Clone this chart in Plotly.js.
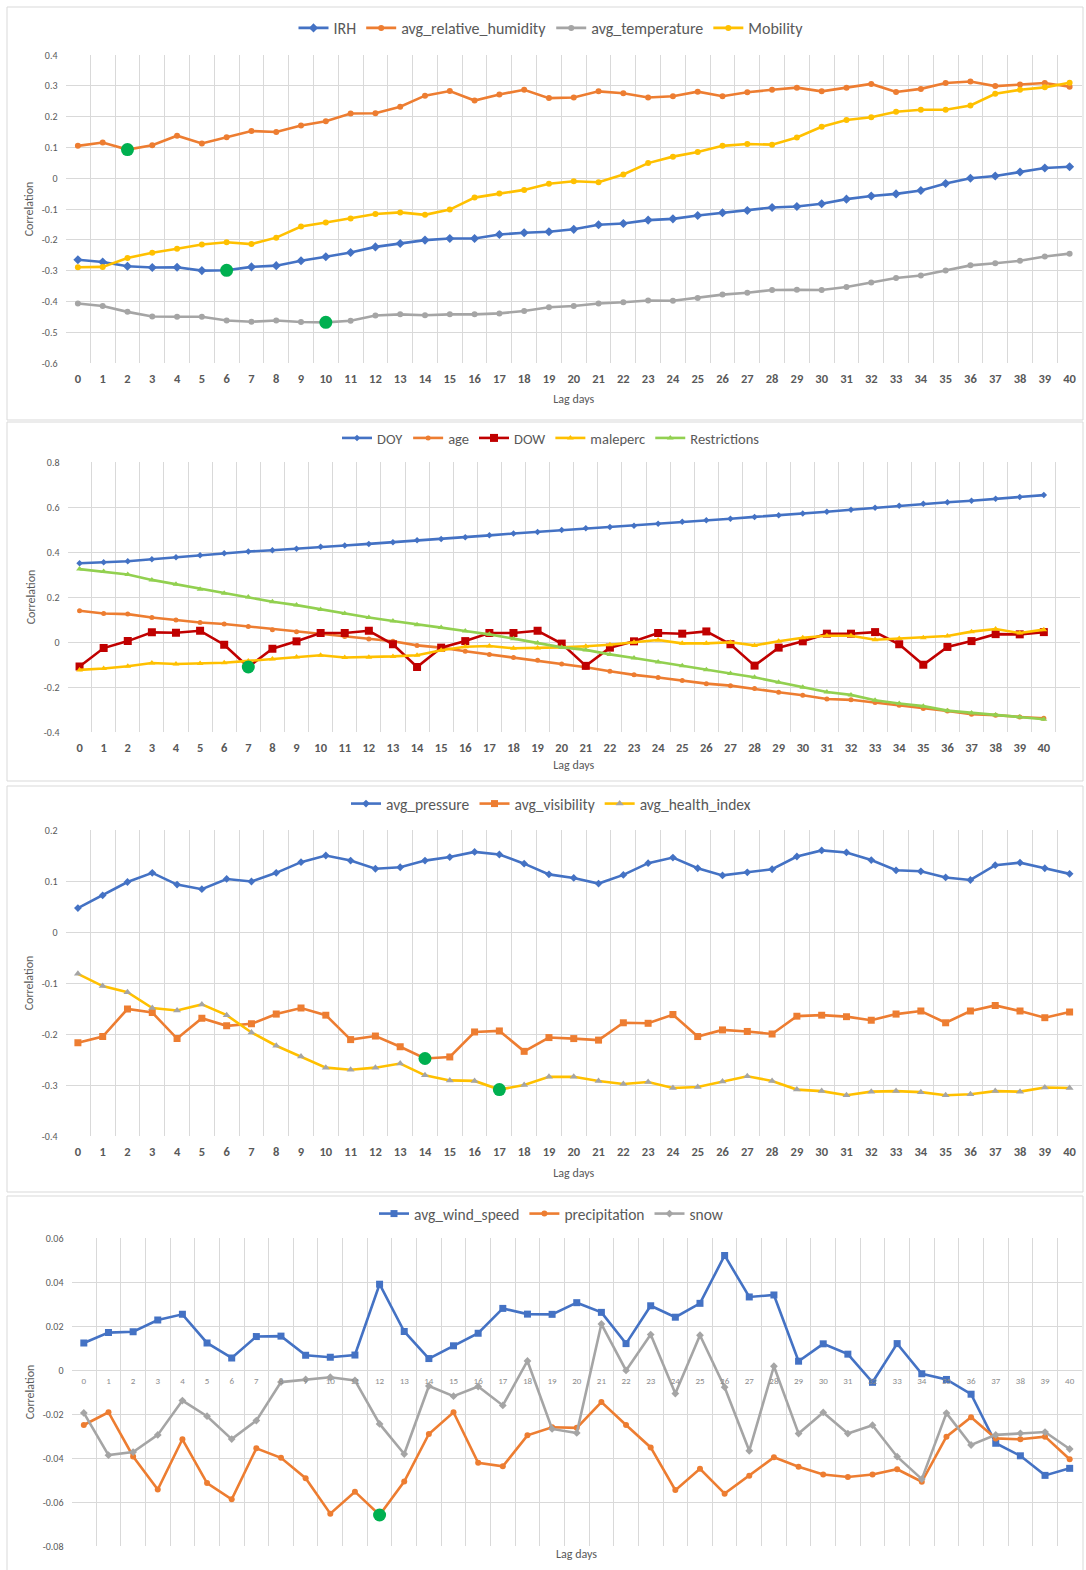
<!DOCTYPE html>
<html>
<head>
<meta charset="utf-8">
<script src="https://cdn.plot.ly/plotly-3.0.1.min.js"></script>
<style>html,body{margin:0;padding:0;background:#fff;}#chart{width:1086px;height:1570px;}</style>
</head>
<body>
<div id="chart"></div>
<script>
// ---------- DATA ----------
const lags = [0,1,2,3,4,5,6,7,8,9,10,11,12,13,14,15,16,17,18,19,20,21,22,23,24,25,26,27,28,29,30,31,32,33,34,35,36,37,38,39,40];
const lagLabels = ["0","1","2","3","4","5","6","7","8","9","10","11","12","13","14","15","16","17","18","19","20","21","22","23","24","25","26","27","28","29","30","31","32","33","34","35","36","37","38","39","40"];

// Panel 1
const irh = [-0.265,-0.272,-0.286,-0.290,-0.289,-0.300,-0.299,-0.288,-0.284,-0.268,-0.255,-0.241,-0.223,-0.212,-0.201,-0.196,-0.196,-0.183,-0.177,-0.174,-0.166,-0.151,-0.147,-0.136,-0.132,-0.121,-0.112,-0.105,-0.095,-0.092,-0.083,-0.068,-0.058,-0.051,-0.040,-0.017,0.000,0.007,0.020,0.033,0.037];
const avgRelativeHumidity = [0.105,0.116,0.093,0.107,0.138,0.113,0.133,0.153,0.150,0.171,0.185,0.210,0.211,0.232,0.268,0.283,0.252,0.272,0.287,0.260,0.262,0.282,0.276,0.262,0.266,0.281,0.266,0.279,0.287,0.294,0.282,0.294,0.306,0.280,0.290,0.309,0.314,0.299,0.304,0.309,0.297];
const avgTemperature = [-0.407,-0.415,-0.434,-0.449,-0.450,-0.450,-0.462,-0.466,-0.462,-0.467,-0.468,-0.463,-0.446,-0.442,-0.445,-0.442,-0.442,-0.439,-0.431,-0.419,-0.415,-0.407,-0.403,-0.397,-0.398,-0.389,-0.378,-0.372,-0.363,-0.362,-0.363,-0.353,-0.339,-0.324,-0.316,-0.300,-0.283,-0.276,-0.268,-0.254,-0.245];
const mobility = [-0.289,-0.288,-0.259,-0.242,-0.229,-0.215,-0.208,-0.214,-0.193,-0.157,-0.144,-0.131,-0.116,-0.111,-0.119,-0.102,-0.063,-0.050,-0.038,-0.018,-0.010,-0.013,0.012,0.049,0.070,0.085,0.105,0.111,0.109,0.132,0.167,0.189,0.198,0.216,0.222,0.222,0.236,0.274,0.287,0.295,0.310];

// Panel 2
const doy = [0.350,0.355,0.359,0.368,0.377,0.386,0.395,0.402,0.408,0.414,0.423,0.429,0.436,0.443,0.452,0.458,0.466,0.474,0.482,0.489,0.498,0.506,0.511,0.517,0.526,0.534,0.541,0.548,0.556,0.563,0.571,0.579,0.588,0.597,0.606,0.615,0.621,0.628,0.637,0.644,0.653];
const age = [0.139,0.127,0.124,0.109,0.098,0.087,0.080,0.069,0.055,0.046,0.034,0.024,0.013,0.003,-0.015,-0.025,-0.041,-0.055,-0.069,-0.081,-0.098,-0.112,-0.130,-0.146,-0.158,-0.171,-0.185,-0.194,-0.207,-0.223,-0.237,-0.253,-0.257,-0.269,-0.281,-0.296,-0.307,-0.321,-0.325,-0.333,-0.339];
const dow = [-0.109,-0.027,0.004,0.043,0.041,0.050,-0.012,-0.111,-0.030,0.003,0.040,0.040,0.050,-0.010,-0.111,-0.025,0.004,0.040,0.040,0.050,-0.007,-0.106,-0.025,0.003,0.040,0.037,0.047,-0.010,-0.105,-0.025,0.003,0.037,0.037,0.044,-0.010,-0.101,-0.022,0.004,0.035,0.034,0.044];
const maleperc = [-0.124,-0.118,-0.108,-0.093,-0.098,-0.095,-0.092,-0.084,-0.075,-0.067,-0.059,-0.069,-0.068,-0.064,-0.059,-0.037,-0.021,-0.018,-0.028,-0.027,-0.024,-0.019,-0.012,-0.001,0.009,-0.006,-0.006,-0.001,-0.015,0.003,0.019,0.028,0.028,0.010,0.016,0.019,0.027,0.046,0.058,0.040,0.055];
const restrictions = [0.324,0.313,0.300,0.276,0.257,0.235,0.217,0.200,0.179,0.164,0.145,0.127,0.109,0.093,0.077,0.064,0.049,0.034,0.015,-0.004,-0.024,-0.035,-0.055,-0.071,-0.089,-0.105,-0.123,-0.140,-0.157,-0.179,-0.201,-0.222,-0.235,-0.259,-0.273,-0.285,-0.305,-0.315,-0.324,-0.333,-0.343];

// Panel 3
const avgPressure = [0.047,0.072,0.098,0.116,0.093,0.084,0.104,0.099,0.116,0.137,0.150,0.140,0.124,0.127,0.140,0.147,0.157,0.152,0.134,0.113,0.106,0.095,0.112,0.135,0.146,0.125,0.111,0.117,0.123,0.148,0.160,0.156,0.141,0.121,0.119,0.107,0.102,0.131,0.136,0.125,0.114];
const avgVisibility = [-0.217,-0.205,-0.151,-0.158,-0.209,-0.169,-0.184,-0.180,-0.161,-0.149,-0.163,-0.211,-0.204,-0.225,-0.248,-0.245,-0.196,-0.194,-0.234,-0.207,-0.209,-0.212,-0.178,-0.179,-0.162,-0.205,-0.192,-0.195,-0.200,-0.165,-0.163,-0.166,-0.173,-0.161,-0.155,-0.178,-0.155,-0.144,-0.155,-0.168,-0.157];
const avgHealthIndex = [-0.082,-0.106,-0.118,-0.149,-0.154,-0.142,-0.163,-0.197,-0.223,-0.244,-0.266,-0.270,-0.266,-0.258,-0.281,-0.291,-0.292,-0.309,-0.300,-0.284,-0.284,-0.292,-0.298,-0.294,-0.306,-0.304,-0.293,-0.283,-0.292,-0.309,-0.312,-0.320,-0.313,-0.312,-0.314,-0.320,-0.318,-0.312,-0.313,-0.305,-0.306];

// Panel 4
const avgWindSpeed = [0.0123,0.0170,0.0174,0.0227,0.0253,0.0123,0.0055,0.0152,0.0154,0.0067,0.0058,0.0068,0.0390,0.0175,0.0052,0.0110,0.0167,0.0280,0.0254,0.0253,0.0306,0.0262,0.0120,0.0292,0.0240,0.0303,0.0521,0.0332,0.0341,0.0040,0.0119,0.0072,-0.0056,0.0120,-0.0017,-0.0043,-0.0110,-0.0333,-0.0390,-0.0479,-0.0447];
const precipitation = [-0.0250,-0.0192,-0.0393,-0.0543,-0.0315,-0.0514,-0.0588,-0.0356,-0.0399,-0.0492,-0.0653,-0.0553,-0.0659,-0.0507,-0.0291,-0.0192,-0.0422,-0.0438,-0.0297,-0.0260,-0.0263,-0.0146,-0.0250,-0.0352,-0.0546,-0.0449,-0.0562,-0.0481,-0.0397,-0.0440,-0.0475,-0.0486,-0.0475,-0.0451,-0.0508,-0.0303,-0.0215,-0.0311,-0.0315,-0.0303,-0.0406];
const snow = [-0.0195,-0.0387,-0.0373,-0.0295,-0.0139,-0.0210,-0.0314,-0.0230,-0.0055,-0.0043,-0.0033,-0.0047,-0.0245,-0.0382,-0.0073,-0.0119,-0.0075,-0.0161,0.0041,-0.0268,-0.0286,0.0209,-0.0002,0.0161,-0.0107,0.0158,-0.0078,-0.0367,0.0017,-0.0289,-0.0193,-0.0289,-0.0251,-0.0394,-0.0496,-0.0196,-0.0341,-0.0295,-0.0288,-0.0282,-0.0359];

// Highlighted (optimal lag) points: [series, lag]
const p1Highlights = [[avgRelativeHumidity, 2], [irh, 6], [avgTemperature, 10]];
const p2Highlights = [[dow, 7]];
const p3Highlights = [[avgVisibility, 14], [avgHealthIndex, 17]];
const p4Highlights = [[precipitation, 12]];

// Y tick values/labels
const p1YTicks = [-0.6,-0.5,-0.4,-0.3,-0.2,-0.1,0,0.1,0.2,0.3,0.4];
const p1YLabels = ["-0.6","-0.5","-0.4","-0.3","-0.2","-0.1","0","0.1","0.2","0.3","0.4"];
const p2YTicks = [-0.4,-0.2,0,0.2,0.4,0.6,0.8];
const p2YLabels = ["-0.4","-0.2","0","0.2","0.4","0.6","0.8"];
const p3YTicks = [-0.4,-0.3,-0.2,-0.1,0,0.1,0.2];
const p3YLabels = ["-0.4","-0.3","-0.2","-0.1","0","0.1","0.2"];
const p4YTicks = [-0.08,-0.06,-0.04,-0.02,0,0.02,0.04,0.06];
const p4YLabels = ["-0.08","-0.06","-0.04","-0.02","0","0.02","0.04","0.06"];

// ---------- STYLE / LAYOUT ----------
const W = 1086, H = 1570;
const FONT = "Carlito, Lato, 'Open Sans', sans-serif";
const TXT = '#595959';
const GRID = '#d9d9d9';
const px = v => v / W;
const py = v => 1 - v / H;

const BLUE = '#4472C4', ORANGE = '#ED7D31', GRAY = '#A5A5A5', YELLOW = '#FFC000', DKRED = '#C00000', LGREEN = '#92D050', HIGHLIGHT = '#00B050';

function line(name, y, color, symbol, size, n, legend, markerColor) {
  return {
    type: 'scatter', mode: 'lines+markers', name: name,
    x: lags, y: y,
    xaxis: 'x' + (n === 1 ? '' : n), yaxis: 'y' + (n === 1 ? '' : n),
    legend: legend,
    line: { color: color, width: 2.6 },
    marker: { color: markerColor || color, symbol: symbol, size: size }
  };
}
function highlights(list, n) {
  return {
    type: 'scatter', mode: 'markers', showlegend: false, hoverinfo: 'skip',
    x: list.map(h => lags[h[1]]), y: list.map(h => h[0][h[1]]),
    xaxis: 'x' + (n === 1 ? '' : n), yaxis: 'y' + (n === 1 ? '' : n),
    marker: { color: HIGHLIGHT, size: 13, symbol: 'circle' }
  };
}

const traces = [
  line('IRH', irh, BLUE, 'diamond', 7, 1, 'legend'),
  line('avg_relative_humidity', avgRelativeHumidity, ORANGE, 'circle', 6, 1, 'legend'),
  line('avg_temperature', avgTemperature, GRAY, 'circle', 6, 1, 'legend'),
  line('Mobility', mobility, YELLOW, 'circle', 6, 1, 'legend'),
  highlights(p1Highlights, 1),

  line('DOY', doy, BLUE, 'diamond', 5, 2, 'legend2'),
  line('age', age, ORANGE, 'circle', 5, 2, 'legend2'),
  line('DOW', dow, DKRED, 'square', 8, 2, 'legend2'),
  line('maleperc', maleperc, YELLOW, 'triangle-up', 6, 2, 'legend2'),
  line('Restrictions', restrictions, LGREEN, 'triangle-up', 6, 2, 'legend2'),
  highlights(p2Highlights, 2),

  line('avg_pressure', avgPressure, BLUE, 'diamond', 6, 3, 'legend3'),
  line('avg_visibility', avgVisibility, ORANGE, 'square', 7, 3, 'legend3'),
  line('avg_health_index', avgHealthIndex, YELLOW, 'triangle-up', 7, 3, 'legend3', GRAY),
  highlights(p3Highlights, 3),

  line('avg_wind_speed', avgWindSpeed, BLUE, 'square', 7, 4, 'legend4'),
  line('precipitation', precipitation, ORANGE, 'circle', 6, 4, 'legend4'),
  line('snow', snow, GRAY, 'diamond', 6, 4, 'legend4'),
  highlights(p4Highlights, 4)
];

const halves = [-0.5].concat(lags.map(v => v + 0.5));
const halves2 = halves.concat([41.5]);

function xAxis(domain, anchor, rangeMax, gridVals, standoff, opts) {
  const ax = {
    domain: domain, anchor: anchor, range: [-0.5, rangeMax],
    tickmode: 'array', tickvals: lags, ticktext: lagLabels,
    showgrid: false, zeroline: false, showline: false, ticks: '',
    tickfont: { family: FONT, size: 12.5, color: TXT, weight: 'bold' },
    ticklabelstandoff: 6,
    minor: { tickmode: 'array', tickvals: gridVals, showgrid: true, gridcolor: GRID, gridwidth: 1, ticks: '' },
    title: { text: 'Lag days', font: { family: FONT, size: 12, color: TXT }, standoff: standoff },
    fixedrange: true
  };
  return Object.assign(ax, opts || {});
}
function yAxis(domain, anchor, range, tv, tt) {
  return {
    domain: domain, anchor: anchor, range: range,
    tickmode: 'array', tickvals: tv, ticktext: tt,
    showgrid: true, gridcolor: GRID, gridwidth: 1, zeroline: false, showline: false, ticks: '',
    tickfont: { family: FONT, size: 10, color: TXT },
    ticklabelstandoff: 7,
    title: { text: 'Correlation', font: { family: FONT, size: 12, color: TXT }, standoff: 5 },
    fixedrange: true
  };
}

const y1d = [py(363), py(55)];
const y2d = [py(732), py(462)];
const y3d = [py(1136), py(830)];
const y4d = [py(1546), py(1238)];
const y4range = [-0.08, 0.06];
const zeroPos4 = y4d[0] + (0 - y4range[0]) / (y4range[1] - y4range[0]) * (y4d[1] - y4d[0]);

function legendAt(yPix, size) {
  return {
    orientation: 'h', x: px(551), xanchor: 'center', y: py(yPix), yanchor: 'middle',
    font: { family: FONT, size: size, color: TXT }, itemwidth: 30, bgcolor: 'rgba(0,0,0,0)',
    tracegroupgap: 0
  };
}

function box(x0, y0, x1, y1) {
  return { type: 'rect', xref: 'paper', yref: 'paper', x0: px(x0), x1: px(x1), y0: py(y1), y1: py(y0),
    line: { color: GRID, width: 1 }, fillcolor: 'rgba(0,0,0,0)', layer: 'below' };
}

const layout = {
  width: W, height: H,
  margin: { l: 0, r: 0, t: 0, b: 0 },
  paper_bgcolor: '#ffffff', plot_bgcolor: '#ffffff',
  font: { family: FONT, color: TXT },
  xaxis: xAxis([px(65.5), px(1082)], 'y', 40.5, halves, 10),
  yaxis: yAxis(y1d, 'x', [-0.6, 0.4], p1YTicks, p1YLabels),
  xaxis2: xAxis([px(67.5), px(1080)], 'y2', 41.5, halves2, 7),
  yaxis2: yAxis(y2d, 'x2', [-0.4, 0.8], p2YTicks, p2YLabels),
  xaxis3: xAxis([px(65.5), px(1082)], 'y3', 40.5, halves, 11),
  yaxis3: yAxis(y3d, 'x3', [-0.4, 0.2], p3YTicks, p3YLabels),
  xaxis4: xAxis([px(71.5), px(1082)], 'free', 40.5, halves, 5, {
    position: zeroPos4,
    tickfont: { family: FONT, size: 9, color: '#8c8c8c' },
    ticklabelstandoff: 4,
    title: { text: '' }
  }),
  yaxis4: yAxis(y4d, 'x4', y4range, p4YTicks, p4YLabels),
  legend: legendAt(28, 16),
  legend2: legendAt(438, 14.5),
  legend3: legendAt(804, 15.5),
  legend4: legendAt(1214, 15.5),
  shapes: [
    box(7, 7, 1083, 420),
    box(7, 422, 1083, 781),
    box(7, 786, 1083, 1192),
    box(7, 1196, 1083, 1575)
  ],
  annotations: [
    { text: 'Lag days', xref: 'x4 domain', yref: 'paper', x: 0.5, y: py(1554), xanchor: 'center', yanchor: 'middle',
      showarrow: false, font: { family: FONT, size: 12, color: TXT } }
  ]
};

Plotly.newPlot('chart', traces, layout, { displayModeBar: false, staticPlot: true });
</script>
</body>
</html>
